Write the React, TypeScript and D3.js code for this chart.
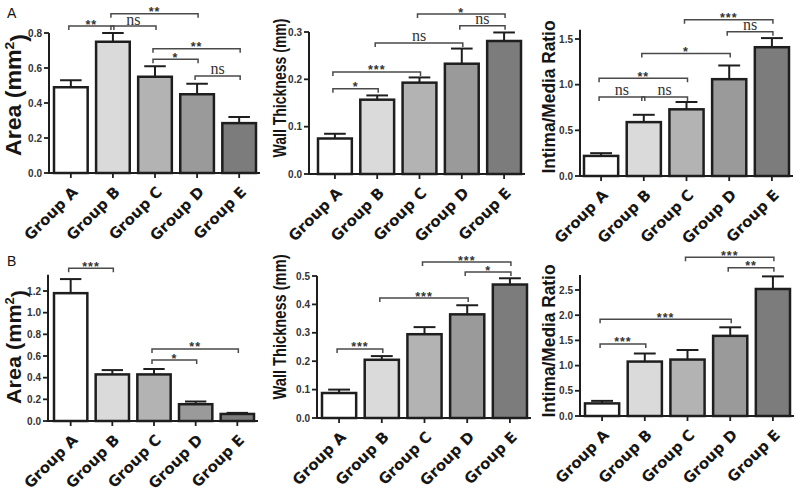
import React from "react";
import * as d3 from "d3";

const categories = ["Group A", "Group B", "Group C", "Group D", "Group E"];

// Panel A (top row)
const areaA = [0.49, 0.75, 0.55, 0.45, 0.285];
const areaAErr = [0.04, 0.05, 0.06, 0.06, 0.035];
const wallA = [0.075, 0.157, 0.193, 0.233, 0.281];
const wallAErr = [0.01, 0.009, 0.011, 0.032, 0.018];
const ratioA = [0.22, 0.59, 0.73, 1.06, 1.41];
const ratioAErr = [0.03, 0.08, 0.08, 0.15, 0.1];

// Panel B (bottom row)
const areaB = [1.18, 0.43, 0.43, 0.155, 0.065];
const areaBErr = [0.13, 0.04, 0.05, 0.025, 0.01];
const wallB = [0.088, 0.205, 0.295, 0.365, 0.47];
const wallBErr = [0.012, 0.013, 0.025, 0.032, 0.022];
const ratioB = [0.25, 1.08, 1.12, 1.59, 2.52];
const ratioBErr = [0.05, 0.16, 0.19, 0.17, 0.25];

// tick labels
const ticksAreaA = [0, 0.2, 0.4, 0.6, 0.8];
const ticksWallA = [0, 0.1, 0.2, 0.3];
const ticksRatioA = [0, 0.5, 1.0, 1.5];
const ticksAreaB = [0, 0.2, 0.4, 0.6, 0.8, 1.0, 1.2];
const ticksWallB = [0, 0.1, 0.2, 0.3, 0.4, 0.5];
const ticksRatioB = [0, 0.5, 1.0, 1.5, 2.0, 2.5];

// significance brackets: [from, to, level (data units), label]
const sigAreaA: [number, number, number, string][] = [
  [0, 1, 0.84, "**"], [1, 2, 0.84, "ns"], [1, 3, 0.91, "**"],
  [2, 4, 0.71, "**"], [2, 3, 0.65, "*"], [3, 4, 0.555, "ns"],
];
const sigWallA: [number, number, number, string][] = [
  [2, 4, 0.338, "*"], [3, 4, 0.313, "ns"], [1, 3, 0.277, "ns"],
  [0, 2, 0.2155, "***"], [0, 1, 0.18, "*"],
];
const sigRatioA: [number, number, number, string][] = [
  [2, 4, 1.71, "***"], [3, 4, 1.58, "ns"], [1, 3, 1.34, "*"],
  [0, 2, 1.07, "**"], [0, 1, 0.865, "ns"], [1, 2, 0.865, "ns"],
];
const sigAreaB: [number, number, number, string][] = [
  [0, 1, 1.41, "***"], [2, 4, 0.665, "**"], [2, 3, 0.563, "*"],
];
const sigWallB: [number, number, number, string][] = [
  [2, 4, 0.549, "***"], [3, 4, 0.514, "*"], [1, 3, 0.4225, "***"], [0, 1, 0.243, "***"],
];
const sigRatioB: [number, number, number, string][] = [
  [2, 4, 3.15, "***"], [3, 4, 2.94, "**"], [0, 3, 1.92, "***"], [0, 1, 1.43, "***"],
];

const fills = ["#ffffff", "#dadada", "#b3b3b3", "#9a9a9a", "#7c7c7c"];

type Layout = {
  axisX: number; y0: number; yRef: number; refVal: number; axisTop: number;
  barStart: number; barEnd: number; titleX: number; titleCY: number; titleLen: number;
  titleSize: number; titleStretch: number; fmt: string;
};

type PanelProps = {
  values: number[]; errors: number[]; ticks: number[];
  sig: [number, number, number, string][]; title: React.ReactNode; layout: Layout;
};

const Panel = ({ values, errors, ticks, sig, title, layout }: PanelProps) => {
  const L = layout;
  const y = d3.scaleLinear().domain([0, L.refVal]).range([L.y0, L.yRef]);
  const step = (L.barEnd - L.barStart) / 4.8;
  const x = d3
    .scaleBand<string>()
    .domain(categories)
    .range([L.barStart - 0.1 * step, L.barStart - 0.1 * step + 5 * step])
    .paddingInner(0.2)
    .paddingOuter(0.1);
  const bw = x.bandwidth();
  const cx = (i: number) => (x(categories[i]) as number) + bw / 2;
  const fmt = d3.format(L.fmt);
  const dark = "#1e1e1e";
  return (
    <g>
      {values.map((v, i) => (
        <g key={i}>
          <line x1={cx(i)} x2={cx(i)} y1={y(v)} y2={y(v + errors[i])} stroke={dark} strokeWidth={2} />
          <line x1={cx(i) - bw * 0.32} x2={cx(i) + bw * 0.32} y1={y(v + errors[i])} y2={y(v + errors[i])} stroke={dark} strokeWidth={2} />
          <rect x={x(categories[i])} y={y(v)} width={bw} height={L.y0 - y(v)} fill={fills[i]} stroke={dark} strokeWidth={2.5} />
        </g>
      ))}
      <line x1={L.axisX} x2={L.axisX} y1={L.y0 + 1} y2={y(L.axisTop)} stroke={dark} strokeWidth={2} />
      {ticks.map((t) => (
        <g key={t}>
          <line x1={L.axisX - 5} x2={L.axisX} y1={y(t)} y2={y(t)} stroke={dark} strokeWidth={1.8} />
          <text x={L.axisX - 7} y={y(t)} dy="0.35em" textAnchor="end" fontFamily="Liberation Sans, Arial, sans-serif" fontWeight="bold" fontSize={10} fill="#333">
            {fmt(t)}
          </text>
        </g>
      ))}
      <line x1={L.axisX - 1} x2={L.barEnd + 4} y1={L.y0} y2={L.y0} stroke={dark} strokeWidth={2} />
      {categories.map((c, i) => (
        <g key={c}>
          <line x1={cx(i)} x2={cx(i)} y1={L.y0} y2={L.y0 + 5} stroke={dark} strokeWidth={1.8} />
          <text
            transform={`translate(${cx(i) + 8},${L.y0 + 20}) rotate(-45)`}
            textAnchor="end"
            fontFamily="DejaVu Sans, Verdana, sans-serif"
            fontWeight="bold"
            fontSize={15}
            fill="#151515"
          >
            {c}
          </text>
        </g>
      ))}
      {sig.map(([a, b, lvl, lab], k) => {
        const x1 = cx(a) - 2;
        const x2 = cx(b) + 1;
        const yy = y(lvl);
        const isNs = lab === "ns";
        return (
          <g key={k}>
            <path d={`M${x1},${yy + 4}V${yy}H${x2}V${yy + 4}`} fill="none" stroke="#4a4a4a" strokeWidth={1.5} />
            <text
              x={(x1 + x2) / 2}
              y={isNs ? yy - 1.5 : yy + 2.5}
              textAnchor="middle"
              fontFamily={isNs ? "Liberation Serif, Times New Roman, serif" : "Liberation Sans, Arial, sans-serif"}
              fontWeight={isNs ? "normal" : "bold"}
              fontSize={isNs ? 16 : 12.5}
              letterSpacing={isNs ? 0 : 1}
              fill="#333"
            >
              {lab}
            </text>
          </g>
        );
      })}
      <text
        transform={`translate(${L.titleX},${L.titleCY}) rotate(-90) scale(1,${L.titleStretch})`}
        textAnchor="middle"
        fontFamily="Liberation Sans, Arial, sans-serif"
        fontWeight="bold"
        fontSize={L.titleSize}
        fill="#151515"
        textLength={L.titleLen}
        lengthAdjust="spacingAndGlyphs"
      >
        {title}
      </text>
    </g>
  );
};

const areaTitle = (
  <>
    Area (mm<tspan fontSize="0.6em" dy="-0.55em">2</tspan>
    <tspan dy="0.55em">)</tspan>
  </>
);

const layouts: Record<string, Layout> = {
  a1: { axisX: 49, y0: 173, yRef: 33, refVal: 0.8, axisTop: 0.8, barStart: 54, barEnd: 256, titleX: 21, titleCY: 95, titleLen: 122, titleSize: 22, titleStretch: 1, fmt: ".1f" },
  a2: { axisX: 309, y0: 174, yRef: 32, refVal: 0.3, axisTop: 0.3, barStart: 318, barEnd: 521, titleX: 286, titleCY: 88, titleLen: 139, titleSize: 14.2, titleStretch: 1.25, fmt: ".1f" },
  a3: { axisX: 580, y0: 176, yRef: 39, refVal: 1.5, axisTop: 1.6, barStart: 584, barEnd: 789, titleX: 555, titleCY: 97, titleLen: 153, titleSize: 17.3, titleStretch: 1.05, fmt: ".1f" },
  b1: { axisX: 48, y0: 421, yRef: 291, refVal: 1.2, axisTop: 1.35, barStart: 54, barEnd: 254, titleX: 21, titleCY: 347, titleLen: 114, titleSize: 21, titleStretch: 1, fmt: ".1f" },
  b2: { axisX: 317, y0: 418, yRef: 276, refVal: 0.5, axisTop: 0.5, barStart: 322, barEnd: 527, titleX: 286, titleCY: 327, titleLen: 145, titleSize: 14.6, titleStretch: 1.22, fmt: ".1f" },
  b3: { axisX: 580, y0: 416, yRef: 290, refVal: 2.5, axisTop: 2.8, barStart: 585, barEnd: 790, titleX: 555, titleCY: 341, titleLen: 153, titleSize: 17.3, titleStretch: 1.05, fmt: ".1f" },
};

export default function App() {
  return (
    <svg width={800} height={493} style={{ position: "absolute", left: 0, top: 0, background: "#fff" }}>
      <rect width={800} height={493} fill="#fff" />
      <text x={7} y={18} fontFamily="Liberation Sans, Arial, sans-serif" fontSize={14} fill="#111">A</text>
      <text x={7} y={266} fontFamily="Liberation Sans, Arial, sans-serif" fontSize={14} fill="#111">B</text>
      <Panel values={areaA} errors={areaAErr} ticks={ticksAreaA} sig={sigAreaA} title={areaTitle} layout={layouts.a1} />
      <Panel values={wallA} errors={wallAErr} ticks={ticksWallA} sig={sigWallA} title="Wall Thickness (mm)" layout={layouts.a2} />
      <Panel values={ratioA} errors={ratioAErr} ticks={ticksRatioA} sig={sigRatioA} title="Intima/Media Ratio" layout={layouts.a3} />
      <Panel values={areaB} errors={areaBErr} ticks={ticksAreaB} sig={sigAreaB} title={areaTitle} layout={layouts.b1} />
      <Panel values={wallB} errors={wallBErr} ticks={ticksWallB} sig={sigWallB} title="Wall Thickness (mm)" layout={layouts.b2} />
      <Panel values={ratioB} errors={ratioBErr} ticks={ticksRatioB} sig={sigRatioB} title="Intima/Media Ratio" layout={layouts.b3} />
    </svg>
  );
}
